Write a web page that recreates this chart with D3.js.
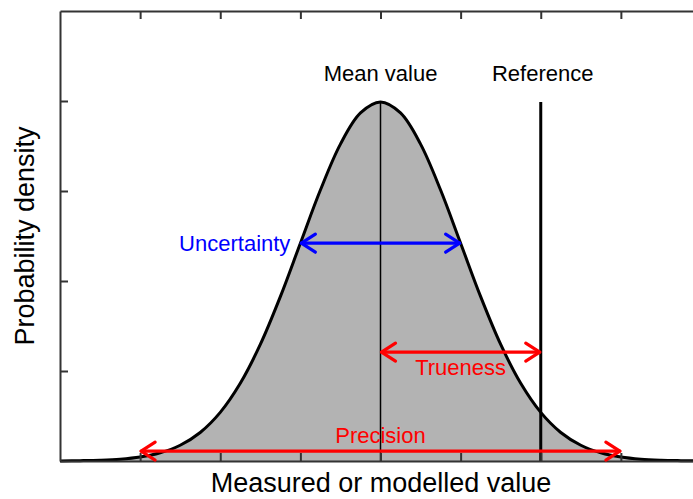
<!DOCTYPE html>
<html>
<head>
<meta charset="utf-8">
<style>
  body { margin: 0; background: #fff; }
  svg { display: block; font-family: "Liberation Sans", Arial, sans-serif; }
</style>
</head>
<body>
<div id="chart"></div>
<script src="https://d3js.org/d3.v7.min.js"></script>
<script>
// values (units of standard deviation around the mean)
const xs = [-4, -3.75, -3.5, -3.25, -3, -2.75, -2.5, -2.25, -2, -1.75, -1.5, -1.25, -1, -0.75, -0.5, -0.25,
            0, 0.25, 0.5, 0.75, 1, 1.25, 1.5, 1.75, 2, 2.25, 2.5, 2.75, 3, 3.25, 3.5, 3.75, 4];
const density = [0.0001, 0.0004, 0.0009, 0.0020, 0.0044, 0.0091, 0.0175, 0.0317, 0.0540, 0.0863, 0.1295, 0.1826, 0.2420, 0.3011, 0.3521, 0.3867,
                 0.3989, 0.3867, 0.3521, 0.3011, 0.2420, 0.1826, 0.1295, 0.0863, 0.0540, 0.0317, 0.0175, 0.0091, 0.0044, 0.0020, 0.0009, 0.0004, 0.0001];
const xTicks = [-3, -2, -1, 0, 1, 2, 3];
const yTicks = [0.1, 0.2, 0.3, 0.4];
const meanValue = 0;
const referenceValue = 2;
const peak = 0.3989;

const arrowNames = ["Uncertainty", "Trueness", "Precision"];
const arrowFrom = [-1, 0, -3];
const arrowTo = [1, 2, 3];
const arrowLevel = [0.242, 0.121, 0.011];
const arrowColor = ["#0000ff", "#ff0000", "#ff0000"];

const width = 693, height = 499;
const svg = d3.select("#chart").append("svg")
  .attr("width", width)
  .attr("height", height);

const x = d3.scaleLinear().domain([-4, 4]).range([60, 701]);
const y = d3.scaleLinear().domain([0, 0.5]).range([461, 11]);

// filled curve
const pts = xs.map((v, i) => [v, density[i]]);
svg.append("path")
  .datum(pts)
  .attr("fill", "#b3b3b3")
  .attr("d", d3.area().x(d => x(d[0])).y0(y(0)).y1(d => y(d[1])).curve(d3.curveCatmullRom));

// mean and reference lines
svg.append("line")
  .attr("x1", x(meanValue)).attr("x2", x(meanValue))
  .attr("y1", y(peak)).attr("y2", y(0))
  .attr("stroke", "#000").attr("stroke-width", 1.5);
svg.append("line")
  .attr("x1", x(referenceValue)).attr("x2", x(referenceValue))
  .attr("y1", y(peak)).attr("y2", y(0))
  .attr("stroke", "#000").attr("stroke-width", 3);

svg.append("path")
  .datum(pts)
  .attr("fill", "none")
  .attr("stroke", "#000")
  .attr("stroke-width", 3)
  .attr("d", d3.line().x(d => x(d[0])).y(d => y(d[1])).curve(d3.curveCatmullRom));

// axes, ticks pointing inward
const axisStyle = g => {
  g.selectAll("path, line").attr("stroke", "#333").attr("stroke-width", 2);
  g.selectAll("text").remove();
};
svg.append("g").attr("transform", `translate(0,${y(0.5)})`)
  .call(d3.axisTop(x).tickValues(xTicks).tickSizeInner(-8).tickSizeOuter(0)).call(axisStyle);
svg.append("g").attr("transform", `translate(0,${y(0)})`)
  .call(d3.axisBottom(x).tickValues(xTicks).tickSizeInner(-8).tickSizeOuter(0)).call(axisStyle);
svg.append("g").attr("transform", `translate(${x(-4)},0)`)
  .call(d3.axisLeft(y).tickValues(yTicks).tickSizeInner(-8).tickSizeOuter(0)).call(axisStyle);
svg.append("g").attr("transform", `translate(${x(4)},0)`)
  .call(d3.axisRight(y).tickValues(yTicks).tickSizeInner(-8).tickSizeOuter(0)).call(axisStyle);

// double headed arrows
arrowNames.forEach((name, i) => {
  const x0 = x(arrowFrom[i]), x1 = x(arrowTo[i]), yy = y(arrowLevel[i]);
  const g = svg.append("g")
    .attr("stroke", arrowColor[i]).attr("stroke-width", 3.2)
    .attr("fill", "none").attr("stroke-linecap", "round").attr("stroke-linejoin", "round");
  g.append("line").attr("x1", x0 + 1).attr("x2", x1 - 1).attr("y1", yy).attr("y2", yy);
  g.append("path").attr("d", `M${x0 + 15},${yy - 9}L${x0 + 1},${yy}L${x0 + 15},${yy + 9}`);
  g.append("path").attr("d", `M${x1 - 15},${yy - 9}L${x1 - 1},${yy}L${x1 - 15},${yy + 9}`);
});

const label = (txt, px, py, color, anchor, size) =>
  svg.append("text").attr("x", px).attr("y", py)
    .attr("text-anchor", anchor).attr("fill", color)
    .attr("font-size", size).text(txt);

label("Uncertainty", x(arrowFrom[0]) - 10, y(arrowLevel[0]) + 8, arrowColor[0], "end", 22);
label("Trueness", (x(arrowFrom[1]) + x(arrowTo[1])) / 2, y(arrowLevel[1]) + 23, arrowColor[1], "middle", 22);
label("Precision", (x(arrowFrom[2]) + x(arrowTo[2])) / 2, y(arrowLevel[2]) - 8, arrowColor[2], "middle", 22);
label("Mean value", x(meanValue), 81, "#000", "middle", 22);
label("Reference", x(referenceValue) + 2, 81, "#000", "middle", 22);

label("Measured or modelled value", 381, 492, "#000", "middle", 27);
svg.append("text")
  .attr("transform", `translate(34,236) rotate(-90)`)
  .attr("text-anchor", "middle").attr("font-size", 27)
  .text("Probability density");
</script>
</body>
</html>
